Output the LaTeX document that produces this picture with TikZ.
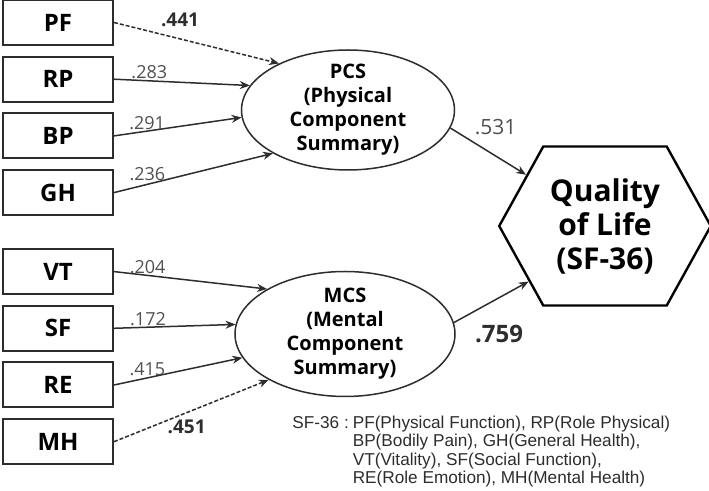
\documentclass[tikz,border=0pt]{standalone}
\usepackage{fontspec}
\setmainfont{Open Sans}
\newfontfamily\legendfont{Liberation Sans}
\usetikzlibrary{arrows.meta, positioning, shapes.geometric, shapes.symbols}
\definecolor{pathgray}{RGB}{45, 45, 45}
\definecolor{coefgray}{RGB}{80, 80, 80}

\begin{document}
\begin{tikzpicture}[
    x=0.5pt, y=-0.5pt,
    node distance=4.85pt,
    box/.style={draw=pathgray, line width=1pt, minimum width=55pt, minimum height=22.5pt,
                inner sep=0pt, font=\fontsize{12}{14}\selectfont\bfseries},
    latent/.style={draw=pathgray, ellipse, line width=0.75pt, inner xsep=0pt, inner ysep=-2pt,
                   align=center, font=\fontsize{10}{12}\selectfont\bfseries},
    outcome/.style={draw=black, line width=1.2pt, signal, signal to=east and west,
                    signal pointer angle=122, minimum width=102.5pt, minimum height=79.5pt,
                    align=center, font=\fontsize{15}{17}\selectfont\bfseries},
    arr/.style={-{Stealth[length=5pt, width=4pt]}, line width=0.75pt, pathgray},
    darr/.style={arr, dash pattern=on 2pt off 1pt},
    coef/.style={font=\fontsize{9}{10}\selectfont, text=coefgray, inner sep=0.5pt},
    bcoef/.style={font=\fontsize{9.5}{10}\selectfont\bfseries, inner sep=0.5pt}
]
    \useasboundingbox (0,0) rectangle (709,491);

    % SF-36 subscales
    \node[box] (pf) at (58,22.5) {PF};
    \node[box, below=of pf] (rp) {RP};
    \node[box, below=of rp] (bp) {BP};
    \node[box, below=of bp] (gh) {GH};
    \node[box, below=16pt of gh] (vt) {VT};
    \node[box, below=of vt] (sf) {SF};
    \node[box, below=of sf] (re) {RE};
    \node[box, below=of re] (mh) {MH};

    % component summaries and outcome
    \node[latent, minimum width=106.5pt, minimum height=60pt] (pcs) at (348,110)
        {PCS\\(Physical\\Component\\Summary)};
    \node[latent, minimum width=110pt, minimum height=62.5pt] (mcs) at (345,334)
        {MCS\\(Mental\\Component\\Summary)};
    \node[outcome] (qol) at (605,226) {Quality\\of Life\\(SF-36)};

    \draw[darr] (pf.east) -- node[bcoef, pos=0.4, above=5pt] (c441) {.441} (pcs.146);
    \draw[arr] (rp.east) -- node[coef, pos=0.26, above] (c283) {.283} (pcs.166);
    \draw[arr] (bp.east) -- node[coef, pos=0.26, above] (c291) {.291} (pcs.184);
    \draw[arr] (gh.east) -- node[coef, pos=0.21, above=1pt] (c236) {.236} (pcs.210);

    \draw[arr] (vt.east) -- node[coef, pos=0.22, above] (c204) {.204} (mcs.150);
    \draw[arr] (sf.east) -- node[coef, pos=0.28, above] (c172) {.172} (mcs.175);
    \draw[arr] (re.east) -- node[coef, pos=0.26, above] (c415) {.415} (mcs.193);
    \draw[darr] (mh.east) -- node[bcoef, pos=0.47, below=3pt] (c451) {.451} (mcs.211);

    \draw[arr] (pcs.-10) -- node[coef, font=\fontsize{10.5}{12}\selectfont, pos=0.3,
        anchor=south west, yshift=3pt] (c531) {.531} (qol.147);
    \draw[arr] (mcs.6) -- node[bcoef, font=\fontsize{12}{14}\selectfont\bfseries, pos=0.26,
        anchor=north west, yshift=-6pt] (c759) {.759} (qol.-144);

    % abbreviations
    \node[anchor=north west, inner sep=0pt, text=pathgray,
          font=\legendfont\fontsize{8.6}{9.25}\selectfont] (legend) at (292,415)
        {\begin{tabular}{@{}l@{}l@{}}
         SF-36 :\hspace{2pt} & PF(Physical Function), RP(Role Physical)\\
         & BP(Bodily Pain), GH(General Health),\\
         & VT(Vitality), SF(Social Function),\\
         & RE(Role Emotion), MH(Mental Health)
         \end{tabular}};
\end{tikzpicture}
\end{document}
